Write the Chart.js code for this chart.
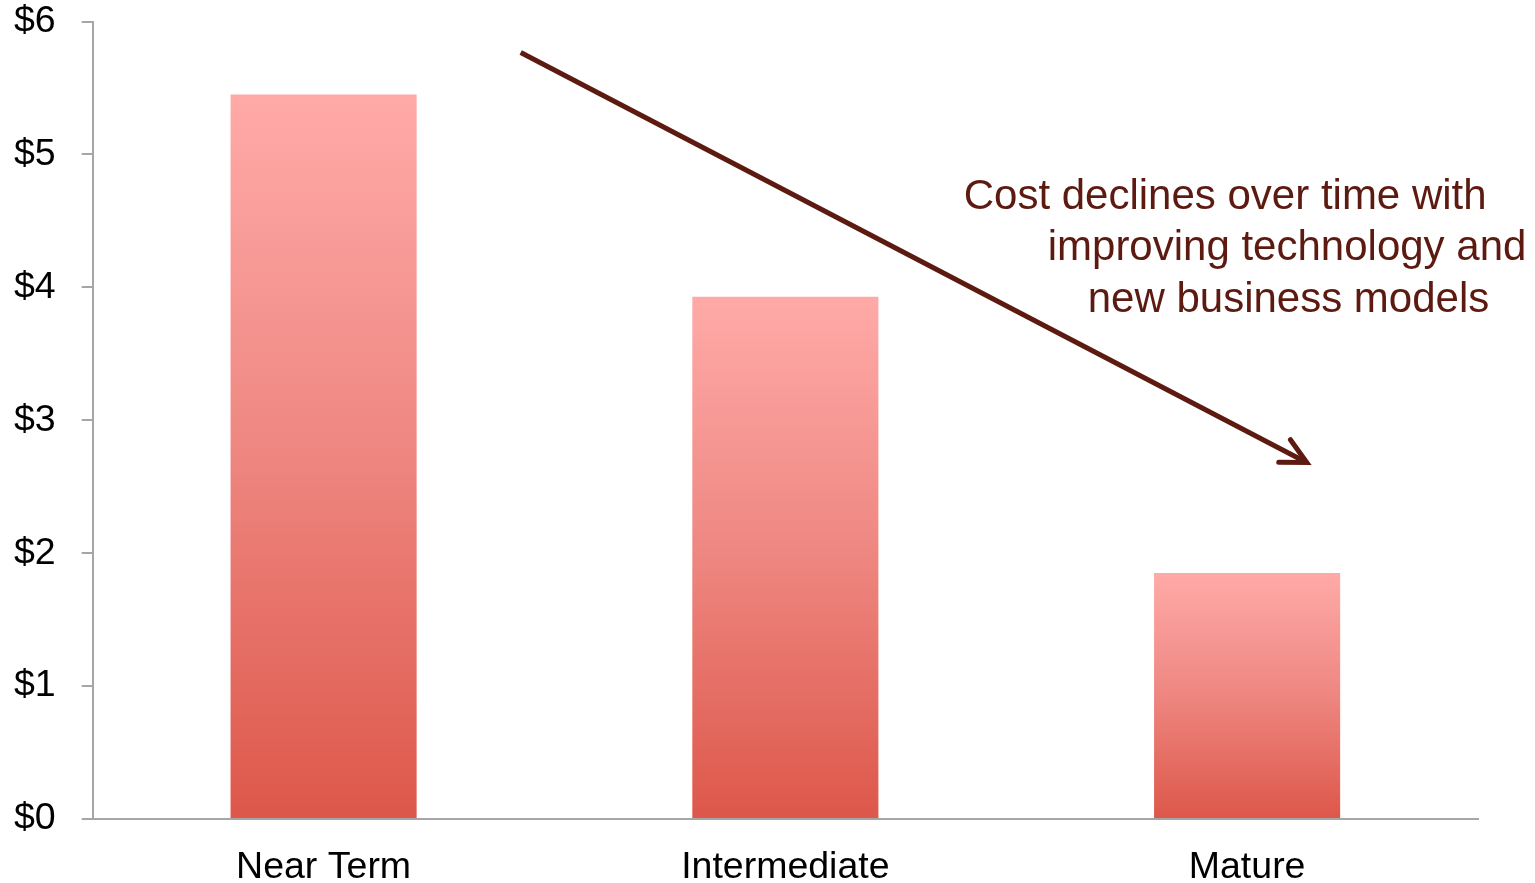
<!DOCTYPE html>
<html>
<head>
<meta charset="utf-8">
<script src="https://cdn.jsdelivr.net/npm/chart.js@4/dist/chart.umd.min.js"></script>
<style>
  html, body { margin: 0; padding: 0; background: #fff; overflow: hidden; }
  #outer { width: 1535px; height: 883px; position: relative; overflow: hidden; }
  #wrap { position: absolute; left: -16px; top: -27px; width: 1551px; height: 943px; }
</style>
</head>
<body>
<div id="outer"><div id="wrap"><canvas id="c"></canvas></div></div>
<script>
const categories = ['Near Term', 'Intermediate', 'Mature'];
const costValues = [5.45, 3.93, 1.85];
const yTickValues = [0, 1, 2, 3, 4, 5, 6];
const annotationLines = ['Cost declines over time with', 'improving technology and', 'new business models'];

const FONT = '"Liberation Sans", Arial, sans-serif';
const AXIS = '#a6a6a6';
const BROWN = '#5c1a10';

function barGradient(ctx) {
  const chart = ctx.chart;
  const y = chart.scales && chart.scales.y;
  if (!y || ctx.raw === undefined) return '#ea7a72';
  const top = y.getPixelForValue(ctx.raw);
  const base = y.getPixelForValue(0);
  if (!isFinite(top) || !isFinite(base) || top === base) return '#ea7a72';
  const g = chart.ctx.createLinearGradient(0, top, 0, base);
  g.addColorStop(0, '#ffaaa8');
  g.addColorStop(0.5, '#ee8680');
  g.addColorStop(1, '#dd574a');
  return g;
}

const annotationPlugin = {
  id: 'annot',
  afterDraw(chart) {
    const { ctx, chartArea: a } = chart;
    ctx.save();
    // arrow (annotation, placed relative to chart area)
    const x0 = a.left + 428, y0 = a.top + 31;
    const x1 = a.left + 1214, y1 = a.top + 441;
    ctx.strokeStyle = BROWN;
    ctx.lineWidth = 5;
    ctx.lineCap = 'butt';
    ctx.beginPath();
    ctx.moveTo(x0, y0);
    ctx.lineTo(x1 - 2, y1 - 1);
    ctx.stroke();
    const ang = Math.atan2(y1 - y0, x1 - x0);
    const len = 28, spread = 0.47;
    ctx.lineCap = 'round';
    ctx.lineJoin = 'miter';
    ctx.beginPath();
    ctx.moveTo(x1 - len * Math.cos(ang - spread), y1 - len * Math.sin(ang - spread));
    ctx.lineTo(x1, y1);
    ctx.lineTo(x1 - len * Math.cos(ang + spread), y1 - len * Math.sin(ang + spread));
    ctx.stroke();

    // text
    ctx.fillStyle = BROWN;
    ctx.font = '42px ' + FONT;
    ctx.textBaseline = 'middle';
    ctx.textAlign = 'left';
    const dx = [871, 955, 995];
    const dy = [176, 227, 279];
    annotationLines.forEach((t, i) => ctx.fillText(t, a.left + dx[i], a.top + dy[i]));
    ctx.restore();
  }
};

new Chart(document.getElementById('c'), {
  type: 'bar',
  data: {
    labels: categories,
    datasets: [{
      data: costValues,
      backgroundColor: barGradient,
      borderWidth: 0,
      categoryPercentage: 1.0,
      barPercentage: 0.403
    }]
  },
  options: {
    responsive: true,
    maintainAspectRatio: false,
    animation: false,
    layout: { padding: { top: 0, right: 57, bottom: 0, left: 4 } },
    plugins: { legend: { display: false }, tooltip: { enabled: false } },
    scales: {
      x: {
        grid: { display: false, drawTicks: false },
        border: { display: true, color: AXIS, width: 2 },
        ticks: { color: '#000', font: { family: FONT, size: 37.5 }, padding: 26 }
      },
      y: {
        min: 0,
        max: 6,
        afterBuildTicks(scale) { scale.ticks = yTickValues.map(v => ({ value: v })); },
        grid: { display: true, drawOnChartArea: false, drawTicks: true, tickLength: 11, color: AXIS, lineWidth: 2 },
        border: { display: true, color: AXIS, width: 2 },
        ticks: {
          color: '#000',
          font: { family: FONT, size: 37.5 },
          padding: 26,
          callback: v => '$' + v
        }
      }
    }
  },
  plugins: [annotationPlugin]
});
</script>
</body>
</html>
